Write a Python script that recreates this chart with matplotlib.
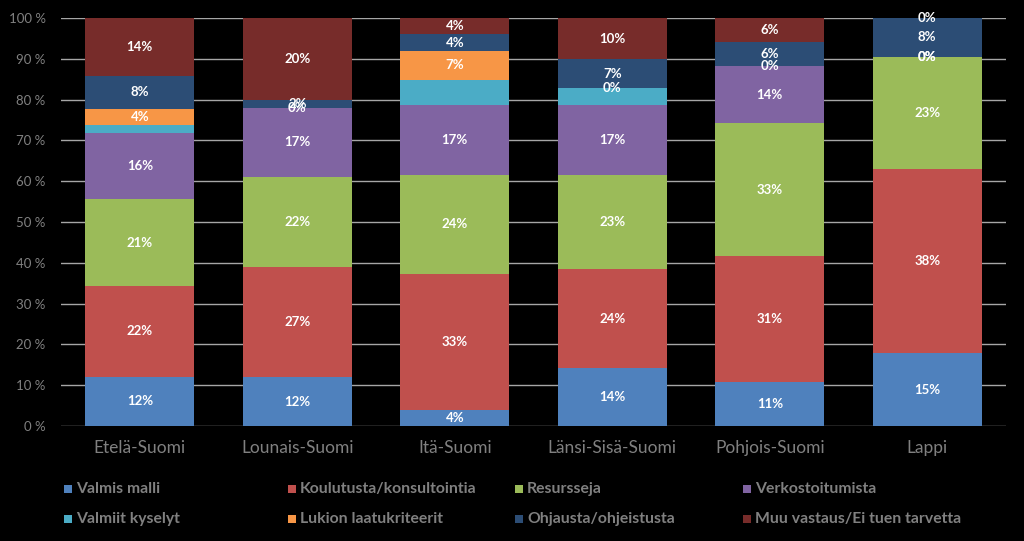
import matplotlib
matplotlib.use('Agg')
import matplotlib.pyplot as plt
import numpy as np
from matplotlib.patches import Rectangle

plt.rcParams['font.family'] = ['Lato', 'DejaVu Sans']

# Alueet ja vastausten osuudet (%)
regions = ['Etelä-Suomi', 'Lounais-Suomi', 'Itä-Suomi', 'Länsi-Sisä-Suomi', 'Pohjois-Suomi', 'Lappi']
series_names = ['Valmis malli', 'Koulutusta/konsultointia', 'Resursseja', 'Verkostoitumista',
                'Valmiit kyselyt', 'Lukion laatukriteerit', 'Ohjausta/ohjeistusta',
                'Muu vastaus/Ei tuen tarvetta']
valmis_malli = [12, 12, 4, 14, 11, 15]
koulutusta = [22, 27, 33, 24, 31, 38]
resursseja = [21, 22, 24, 23, 33, 23]
verkostoitumista = [16, 17, 17, 17, 14, 0]
valmiit_kyselyt = [2, 0, 6, 4, 0, 0]
lukion_kriteerit = [4, 0, 7, 0, 0, 0]
ohjausta = [8, 2, 4, 7, 6, 8]
muu_vastaus = [14, 20, 4, 10, 6, 0]

colors = ['#4F81BD', '#C0504D', '#9BBB59', '#8064A2', '#4BACC6', '#F79646', '#2C4D75', '#772C2A']
show_labels = [True, True, True, True, False, True, True, True]

data = np.array([valmis_malli, koulutusta, resursseja, verkostoitumista,
                 valmiit_kyselyt, lukion_kriteerit, ohjausta, muu_vastaus], dtype=float)
totals = data.sum(axis=0)
shares = data / totals * 100

fig = plt.figure(figsize=(10.24, 5.41), dpi=100, facecolor='black')
ax = fig.add_axes([61 / 1024, 1 - 426 / 541, 945 / 1024, 408 / 541])
ax.set_facecolor('black')

x = np.arange(len(regions))
bottom = np.zeros(len(regions))
for i, name in enumerate(series_names):
    ax.bar(x, shares[i], bottom=bottom, width=0.69, color=colors[i], zorder=3)
    if show_labels[i]:
        for j in range(len(regions)):
            ax.text(x[j], bottom[j] + shares[i][j] / 2, f'{int(data[i][j])}%',
                    ha='center', va='center', color='white', fontsize=9.5,
                    fontweight='bold', zorder=4)
    bottom += shares[i]

ax.set_xlim(-0.5, len(regions) - 0.5)
ax.set_ylim(0, 100)
ax.set_yticks(np.arange(0, 101, 10))
ax.set_yticklabels([f'{v} %' for v in range(0, 101, 10)])
ax.yaxis.grid(True, color='#a6a6a6', linewidth=1, zorder=0)
ax.set_xticks(x)
ax.set_xticklabels(regions)
ax.tick_params(axis='y', length=0, pad=11, labelsize=9.5, colors='#808080')
ax.tick_params(axis='x', length=0, pad=10, labelsize=12.5, colors='#808080')
for s in ax.spines.values():
    s.set_visible(False)

# selite
col_x = [68, 292, 519, 747]
row_y = [489, 519]
for k, name in enumerate(series_names):
    r, c = divmod(k, 4)
    px, py = col_x[c], row_y[r]
    fig.patches.append(Rectangle((px / 1024 - 4 / 1024, 1 - py / 541 - 4 / 541), 8 / 1024, 8 / 541,
                                 transform=fig.transFigure, facecolor=colors[k], edgecolor='none'))
    fig.text(px / 1024 + 8 / 1024, 1 - py / 541, name, color='#808080', fontsize=11.3,
             fontweight='bold', ha='left', va='center')

fig.savefig('out.png', dpi=100, facecolor='black')
